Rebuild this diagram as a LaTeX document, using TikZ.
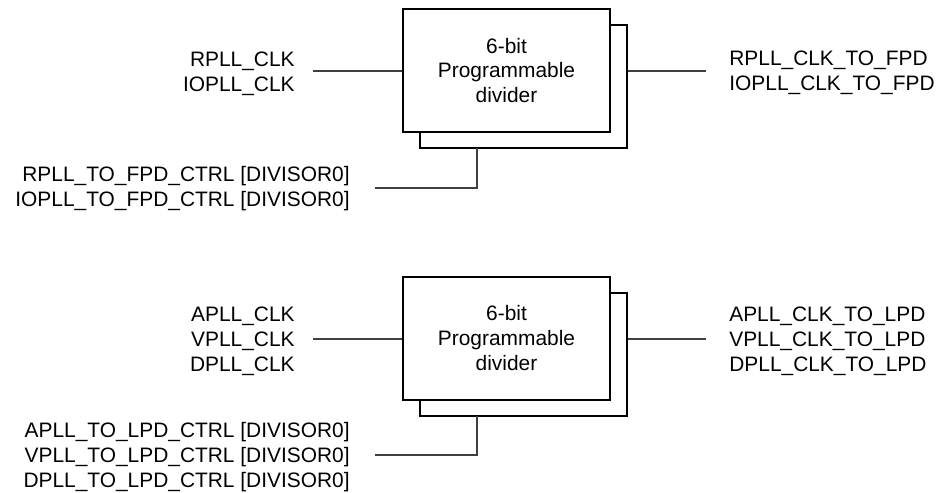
\documentclass[tikz,border=0pt]{standalone}
\usepackage{fontspec}
\setmainfont{Liberation Sans}

\begin{document}
\begin{tikzpicture}[x=0.02cm, y=-0.02cm,
        font=\fontsize{11.9}{14.2}\selectfont,
        blk/.style={draw, line width=1.3pt, fill=white, inner sep=0pt,
          minimum width=4.14cm, minimum height=2.46cm, align=center},
        w/.style={draw=black!75, line width=0.8pt},
        lbl/.style={inner sep=0pt, align=right, anchor=east},
        lblr/.style={inner sep=0pt, align=left, anchor=west}]

      \useasboundingbox (0,0) rectangle (938,493);

      % FPD divider
      \node[blk] (back0) at (523.5,86.5) {};
      \node[blk] (div0) at (506.5,70.5) {6-bit\\Programmable\\divider};
      \node[lbl] (in0) at (295,74) {RPLL\_CLK\\IOPLL\_CLK};
      \node[lblr] (out0) at (729,73) {RPLL\_CLK\_TO\_FPD\\IOPLL\_CLK\_TO\_FPD};
      \node[lbl] (ctl0) at (350,189) {RPLL\_TO\_FPD\_CTRL [DIVISOR0]\\IOPLL\_TO\_FPD\_CTRL [DIVISOR0]};
      \coordinate (a0) at (313,71);
      \coordinate (b0) at (706,71);
      \coordinate (c0) at (375,188);
      \coordinate (t0) at (477,148);
      \draw[w] (a0) -- (a0 -| div0.west);
      \draw[w] (b0 -| back0.east) -- (b0);
      \draw[w] (c0) -| (t0);

      % LPD divider
      \begin{scope}[yshift=-5.36cm]
        \node[blk] (back1) at (523.5,86.5) {};
        \node[blk] (div1) at (506.5,70.5) {6-bit\\Programmable\\divider};
        \node[lbl] (in1) at (295,73) {APLL\_CLK\\VPLL\_CLK\\DPLL\_CLK};
        \node[lblr] (out1) at (729,73) {APLL\_CLK\_TO\_LPD\\VPLL\_CLK\_TO\_LPD\\DPLL\_CLK\_TO\_LPD};
        \node[lbl] (ctl1) at (350,189) {APLL\_TO\_LPD\_CTRL [DIVISOR0]\\VPLL\_TO\_LPD\_CTRL [DIVISOR0]\\DPLL\_TO\_LPD\_CTRL [DIVISOR0]};
        \coordinate (a1) at (313,71);
        \coordinate (b1) at (706,71);
        \coordinate (c1) at (375,187);
        \coordinate (t1) at (477,148);
        \draw[w] (a1) -- (a1 -| div1.west);
        \draw[w] (b1 -| back1.east) -- (b1);
        \draw[w] (c1) -| (t1);
      \end{scope}
    \end{tikzpicture}
\end{document}
